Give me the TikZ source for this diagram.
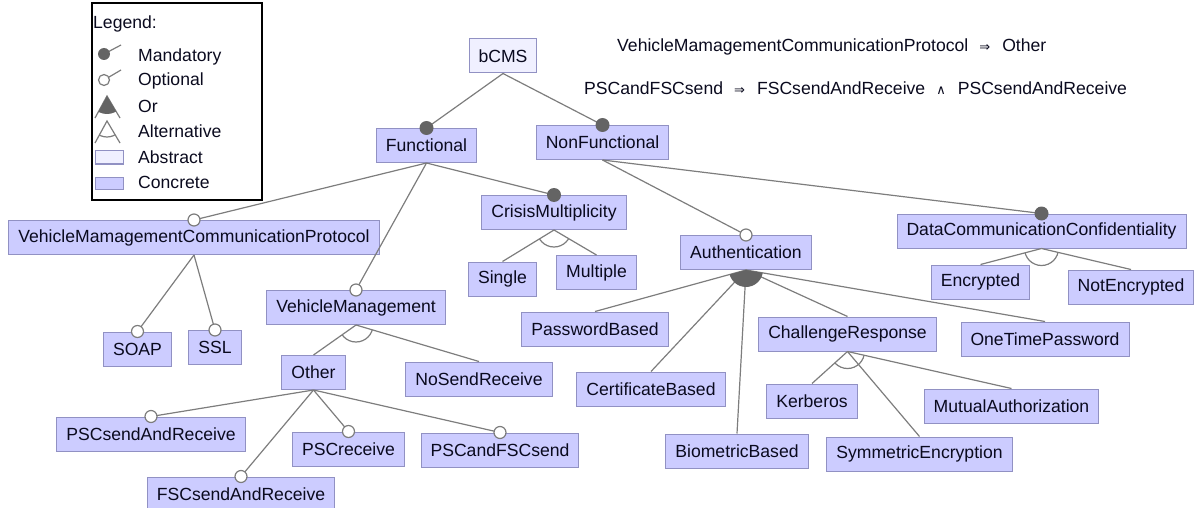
\documentclass[tikz,border=0pt]{standalone}
\usepackage{fontspec}
\setmainfont{Liberation Sans}
\newfontfamily\symf{DejaVu Sans}
\usetikzlibrary{calc}
\definecolor{fconc}{RGB}{204,204,255}
\definecolor{fabs}{RGB}{240,240,255}
\definecolor{fbord}{RGB}{145,145,195}
\definecolor{ftext}{RGB}{10,10,30}
\definecolor{lgray}{RGB}{125,125,125}
\definecolor{dgray}{RGB}{100,100,100}
\newcommand\ff{\fontsize{17.6}{20}\selectfont}
\newcommand\sm{{\symf\fontsize{13}{13}\selectfont ⇒}}
\newcommand\sa{{\symf\fontsize{13}{13}\selectfont ∧}}
\newcommand\mandc[1]{\fill[dgray] (#1.north) circle[radius=7pt];}
\newcommand\optc[1]{\filldraw[fill=white,draw=lgray,line width=1.2pt] (#1.north) circle[radius=6pt];}
\newcommand\grp[4]{%
\begin{scope}
\clip (#2.south) -- ($(#2.south)!5!(#3.north)$) -- ($(#2.south)!5!(#4.north)$) -- cycle;
\path[#1] (#2.south) circle[radius=17pt];
\end{scope}}
\tikzset{
  feat/.style={draw=fbord, fill=fconc, text=ftext, font=\ff, minimum height=34pt, inner xsep=9.5pt, inner ysep=0pt, line width=1pt},
  absfeat/.style={feat, fill=fabs},
  edge/.style={draw=lgray, line width=1.2pt},
  alt/.style={draw=lgray, line width=1.2pt},
  orf/.style={fill=dgray},
  ltxt/.style={anchor=west, text=ftext, font=\ff, inner sep=0pt},
}
\begin{document}
\begin{tikzpicture}[x=1pt,y=-1pt]
\useasboundingbox (0,0) rectangle (1194,508);
% legend
\draw[black, line width=1.5pt] (92,3) rectangle (262,200);
\node[ltxt] (lg) at (93,24) {Legend:};
\node[ltxt] (lm) at (138,57) {Mandatory};
\node[ltxt] (lo) at (138,81) {Optional};
\node[ltxt] (lr) at (138,106) {Or};
\node[ltxt] (la) at (138,131) {Alternative};
\node[ltxt] (lb) at (138,157) {Abstract};
\node[ltxt] (lc) at (138,182) {Concrete};
\draw[edge] (104,54) -- (121,45);
\fill[dgray] (104,54) circle[radius=6pt];
\draw[edge] (104,80) -- (121,70);
\filldraw[fill=white,draw=lgray,line width=1.2pt] (104,80) circle[radius=5.5pt];
\draw[edge] (95,118) -- (107,96) -- (120,118);
\begin{scope}\clip (107,96) -- (95,118) -- (120,118) -- cycle; \fill[dgray] (107,96) circle[radius=18pt];\end{scope}
\draw[edge] (95,143) -- (107,121) -- (120,143);
\begin{scope}\clip (107,121) -- (95,143) -- (120,143) -- cycle; \draw[alt] (107,121) circle[radius=16pt];\end{scope}
\filldraw[fill=fabs, draw=fbord, line width=1pt] (95,151) rectangle (123,164);
\filldraw[fill=fconc, draw=fbord, line width=1pt] (95,177) rectangle (123,189);
% constraints
\node[ltxt] (c1) at (617,47) {VehicleMamagementCommunicationProtocol\hspace{11pt}\sm\hspace{12pt}Other};
\node[ltxt] (c2) at (584,88) {PSCandFSCsend\hspace{11pt}\sm\hspace{12pt}FSCsendAndReceive\hspace{11pt}\sa\hspace{12pt}PSCsendAndReceive};
% features
\node[absfeat] (bCMS) at (503,56) {bCMS};
\node[feat] (Func) at (426.5,145.5) {Functional};
\node[feat] (NonF) at (602.5,142.5) {NonFunctional};
\node[feat] (VMCP) at (194,237.5) {VehicleMamagementCommunicationProtocol};
\node[feat] (VM) at (356,307.5) {VehicleManagement};
\node[feat] (CM) at (554,212.5) {CrisisMultiplicity};
\node[feat] (Auth) at (746,252.5) {Authentication};
\node[feat] (DCC) at (1041.5,231) {DataCommunicationConfidentiality};
\node[feat] (SOAP) at (137.5,349) {SOAP};
\node[feat] (SSL) at (215,347.5) {SSL};
\node[feat] (Other) at (313.5,372.5) {Other};
\node[feat] (NSR) at (479,379) {NoSendReceive};
\node[feat] (Single) at (502.5,279) {Single};
\node[feat] (Multiple) at (596.5,272.5) {Multiple};
\node[feat] (PB) at (595,329) {PasswordBased};
\node[feat] (CB) at (651,389) {CertificateBased};
\node[feat] (BB) at (737,451) {BiometricBased};
\node[feat] (CR) at (847.5,334) {ChallengeResponse};
\node[feat] (OTP) at (1045,339) {OneTimePassword};
\node[feat] (Enc) at (980.5,282) {Encrypted};
\node[feat] (NEnc) at (1131,287) {NotEncrypted};
\node[feat] (Kerb) at (812,401) {Kerberos};
\node[feat] (SymE) at (919.5,454) {SymmetricEncryption};
\node[feat] (MA) at (1011.5,406) {MutualAuthorization};
\node[feat] (PSCsar) at (151,434) {PSCsendAndReceive};
\node[feat] (PSCr) at (348.5,449) {PSCreceive};
\node[feat] (PSCaF) at (500,450) {PSCandFSCsend};
\node[feat] (FSCsar) at (241,494) {FSCsendAndReceive};
% edges
\draw[edge] (bCMS.south) -- (Func.north);
\draw[edge] (bCMS.south) -- (NonF.north);
\draw[edge] (Func.south) -- (VMCP.north);
\draw[edge] (Func.south) -- (VM.north);
\draw[edge] (Func.south) -- (CM.north);
\draw[edge] (NonF.south) -- (Auth.north);
\draw[edge] (NonF.south) -- (DCC.north);
\draw[edge] (VMCP.south) -- (SOAP.north);
\draw[edge] (VMCP.south) -- (SSL.north);
\draw[edge] (VM.south) -- (Other.north);
\draw[edge] (VM.south) -- (NSR.north);
\draw[edge] (CM.south) -- (Single.north);
\draw[edge] (CM.south) -- (Multiple.north);
\draw[edge] (Auth.south) -- (PB.north);
\draw[edge] (Auth.south) -- (CB.north);
\draw[edge] (Auth.south) -- (BB.north);
\draw[edge] (Auth.south) -- (CR.north);
\draw[edge] (Auth.south) -- (OTP.north);
\draw[edge] (DCC.south) -- (Enc.north);
\draw[edge] (DCC.south) -- (NEnc.north);
\draw[edge] (CR.south) -- (Kerb.north);
\draw[edge] (CR.south) -- (SymE.north);
\draw[edge] (CR.south) -- (MA.north);
\draw[edge] (Other.south) -- (PSCsar.north);
\draw[edge] (Other.south) -- (FSCsar.north);
\draw[edge] (Other.south) -- (PSCr.north);
\draw[edge] (Other.south) -- (PSCaF.north);
% groups
\grp{alt}{VM}{Other}{NSR}
\grp{alt}{CM}{Single}{Multiple}
\grp{orf}{Auth}{PB}{OTP}
\grp{alt}{DCC}{Enc}{NEnc}
\grp{alt}{CR}{Kerb}{MA}
% mandatory / optional markers
\mandc{Func} \mandc{NonF} \mandc{CM} \mandc{DCC}
\optc{VMCP} \optc{VM} \optc{Auth} \optc{SOAP} \optc{SSL}
\optc{PSCsar} \optc{FSCsar} \optc{PSCr} \optc{PSCaF}
\end{tikzpicture}
\end{document}
